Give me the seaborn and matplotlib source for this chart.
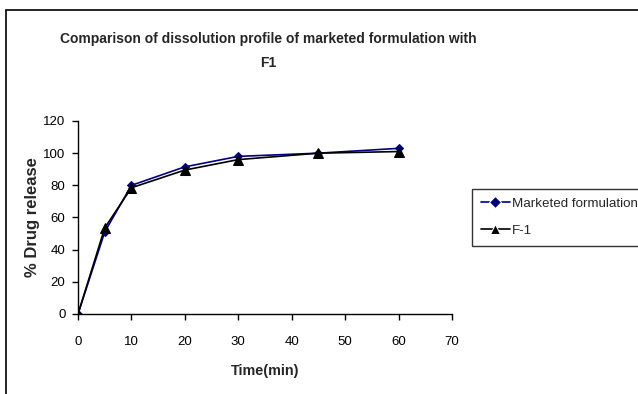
import matplotlib
matplotlib.use("Agg")
import matplotlib.pyplot as plt
import matplotlib.patches as patches
import seaborn as sns
import pandas as pd

time_min = [0, 5, 10, 20, 30, 45, 60]
marketed = [0, 51, 80, 91.5, 98, 100, 103]
f1 = [0, 53.5, 78.5, 89.5, 96, 100, 101]
series_names = ["Marketed formulation", "F-1"]
x_ticks = [0, 10, 20, 30, 40, 50, 60, 70]
y_ticks = [0, 20, 40, 60, 80, 100, 120]

sns.set_theme(style="white")
plt.rcParams['font.family'] = ['Liberation Sans', 'DejaVu Sans']

df = pd.DataFrame({
    "Time": time_min * 2,
    "Release": marketed + f1,
    "Series": [series_names[0]] * len(time_min) + [series_names[1]] * len(time_min),
})

fig = plt.figure(figsize=(6.38, 3.94), dpi=100)
ax = fig.add_axes([78/638, 1-314/394, (452-78)/638, (314-121)/394])

sns.lineplot(data=df, x="Time", y="Release", hue="Series", style="Series",
             palette={series_names[0]: "#000080", series_names[1]: "#000000"},
             markers={series_names[0]: "D", series_names[1]: "^"},
             dashes=False, markersize=6.5, linewidth=1.2, ax=ax)
for line, col in zip(ax.lines, ["#000080", "#000000"]):
    line.set_markeredgecolor(col)
    line.set_markerfacecolor(col)
ax.lines[0].set_markersize(4.5)

ax.set_xlim(0, 70)
ax.set_ylim(0, 120)
ax.set_xticks(x_ticks)
ax.set_yticks(y_ticks)
for s in ["top", "right"]:
    ax.spines[s].set_visible(False)
for s in ["left", "bottom"]:
    ax.spines[s].set_color("#000000")
    ax.spines[s].set_linewidth(1.0)
ax.tick_params(axis="both", which="major", direction="out", length=4, width=1,
               color="#000000", labelsize=9.5, labelcolor="#000000", pad=5, left=True, bottom=True)
ax.tick_params(axis="x", pad=12)
ax.set_xlabel("Time(min)", fontsize=10.4, fontweight="bold", labelpad=11)
ax.set_ylabel("% Drug release", fontsize=12, fontweight="bold", labelpad=2)

fig.text(268/638, 1-39/394, "Comparison of dissolution profile of marketed formulation with",
         ha="center", va="center", fontsize=10, fontweight="bold")
fig.text(268/638, 1-63/394, "F1", ha="center", va="center", fontsize=10, fontweight="bold")

handles, labels = ax.get_legend_handles_labels()
leg = ax.legend(handles, labels, loc="upper left", bbox_to_anchor=(472/638, 1-189/394),
                bbox_transform=fig.transFigure, frameon=True, fancybox=False,
                edgecolor="#000000", fontsize=9.6, handlelength=2.2, handletextpad=0.15,
                borderaxespad=0, borderpad=0.65, labelspacing=1.1)
leg.get_frame().set_linewidth(1.0)

fig.patches.append(patches.Rectangle((6/638, -0.1), 1.0, 1.1 - 10/394, fill=False,
                                     edgecolor="#000000", linewidth=1.2,
                                     transform=fig.transFigure, figure=fig))

fig.savefig("out.png", dpi=100, facecolor="white")
